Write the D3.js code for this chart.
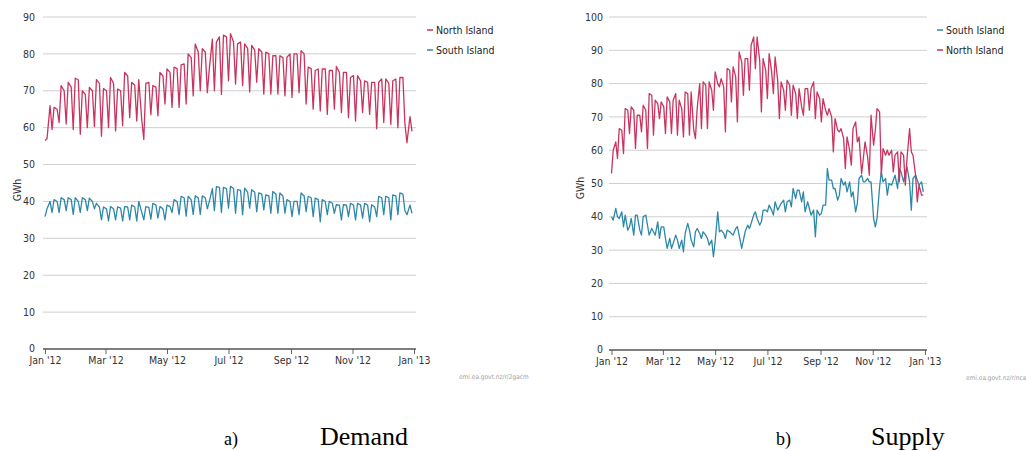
<!DOCTYPE html>
<html><head><meta charset="utf-8">
<script src="https://cdn.jsdelivr.net/npm/d3@7"></script>
<style>
html,body{margin:0;padding:0;background:#fff;}
svg{display:block;}
</style></head><body>
<svg id="c" width="1026" height="451"></svg>
<script>
// ---------- DATA ----------
// Values read at three points of each week of 2012: Sunday, Tuesday, Friday
const anchorWeekdays = [0, 2, 5];
const weeks = d3.range(53);
const xTickLabels = ["Jan '12", "Mar '12", "May '12", "Jul '12", "Sep '12", "Nov '12", "Jan '13"];
const demandYTicks = [0, 10, 20, 30, 40, 50, 60, 70, 80, 90];
const supplyYTicks = [0, 10, 20, 30, 40, 50, 60, 70, 80, 90, 100];

const demandNorth = [
56.5,57,66, 59.5,65.5,65, 61.4,71.4,70, 61,72.3,71, 59.5,73.4,73, 58.2,70,69, 60,70.9,70, 60.3,73,72, 57.7,70.6,70, 60,73.6,72,
59.1,70.5,70, 60.5,75,74, 62.7,72.3,71.5, 61.8,73,62, 56.8,72,72.3, 63.5,71.4,71, 63.2,75,74, 66.4,75.9,75, 65.5,76.4,76, 65.5,77,77.3,
66.4,80,79, 68.6,82.7,80.5, 70,81.4,80.5, 69.5,76,84, 70,83.2,84.6, 69,85.1,84.6, 72.7,85.5,83.2, 71.8,82.7,83.2, 71.4,82.7,81.5, 69.7,82.3,81,
72.3,81.4,80.5, 69.1,80.5,80, 69.1,79.5,79.5, 69.1,79.5,79, 68.6,79.1,80, 68.2,80,80, 69.5,80.9,80, 66.4,76.4,76, 65,75.5,75.9, 64.5,75.9,75.9,
63.6,75.5,75.5, 65,76.6,75, 64.1,75,75, 62.7,73.6,74.1, 61.8,74.1,72.7, 64.1,72.7,72.3, 63.6,72.3,72.3, 59.7,72.3,73.2, 61.4,73.2,72, 60.9,72.7,73.2,
60,73.6,73.6, 61,55.9,63, 59
];
const demandSouth = [
35.9,38,40, 37,40.5,40, 37,41,40.5, 37.5,41,40.5, 36.5,41,40, 37,41,40.5, 37.5,40.9,40, 38,39.5,38.5, 35,38.5,38, 34.7,38.6,38,
35,38.5,38.2, 34.7,38.6,38.5, 35,39,38.5, 34.7,40,37, 35,38.6,38.4, 35.2,39.5,39, 35.5,38.6,38, 35,39,38.6, 37,40.5,40, 36.4,41.4,41,
36,41.4,40.5, 36.5,41.5,41, 36.5,41.5,41, 38,40,43.5, 37.5,44,43.8, 37,43.8,43.5, 38.2,44.1,43.5, 36.8,43.2,43, 36.4,43.6,42.5, 38.2,43.2,42.5,
37.2,42.3,42, 37.7,41.8,41.5, 36.8,42.7,42, 36.8,42.3,41.5, 36.8,40.5,40, 35.9,40,40, 36.4,42.3,41.5, 37.2,41.4,41, 35.9,40.9,40.5, 34.5,40.5,40,
36.4,40,39.5, 36.8,39.1,39, 35,39.1,39, 35.9,39.5,39, 35,39.5,39, 35.5,39.5,39, 34.5,39.1,38.5, 35.9,41.4,41, 36.4,41.4,41, 35,41.8,41.5,
36.4,42.3,42, 37.5,36.4,39, 36.8
];
const supplyNorth = [
53,60,62.5, 57.5,66.5,66, 59,72.5,72, 65,73,72, 60.5,70.5,70.5, 65.5,73.5,72, 60.5,77,76.5, 64.5,75,74, 69.5,74.5,73, 65,76,74.5,
65,75,77, 64.5,75,72.5, 64,77.5,77, 64.5,77.5,66, 63.5,72.5,80, 66.5,80.5,79.5, 66.5,80.5,78, 72,83.5,80, 79,81.5,79, 65.5,84.5,84,
74.5,85,82, 68.5,89.5,86.5, 76.5,87.5,87.5, 78,91.5,94, 84.5,94,87, 71.5,87.5,84, 75.5,89,83.5, 77,88,81, 69.5,80.5,78, 72,81,79.5,
70.5,79.5,77, 69.5,78.5,73, 70.5,78.5,78.5, 72,78.5,80.5, 69.5,77.5,75.5, 68.5,75.5,72, 70.5,72.5,70, 59.5,69.5,66, 65.5,66.5,63.5, 54.5,64,60,
55.5,66.5,68.5, 62.5,64,53, 57.5,62.5,58, 52.5,70.5,61.5, 66,72.5,71.5, 52.5,60.5,58.5, 60,58.5,60, 53.5,58.5,59.5, 50.5,59.5,58.5, 49.5,57.5,66.5,
59.5,58.5,52.5, 44.5,49.5,46.5, 46.5
];
const supplySouth = [
40,39,42.5, 40,39.5,41.5, 37,40.5,36, 37,39.5,34.5, 40.5,40.5,36, 34.5,40,40.5, 37.5,34.5,36.5, 35.5,34.5,38.5, 33.5,37,37, 33.5,30.5,33.5,
30.5,32,34.5, 33,30.5,33, 29.5,35,38, 36,33,31, 35.5,36.5,35, 33.5,35.5,34.5, 33.5,31.5,33, 28,32.5,41.5, 35.5,36,35, 33.5,36,35.5,
35,34.5,36.5, 37,34.5,30.5, 33,35.5,37.5, 36.5,38,40.5, 41.5,39.5,37.5, 38.5,42,42, 41.5,43.5,42, 40.5,44.5,42, 43,44,45, 41.5,44.5,45,
43,48.5,45.5, 48,48,44.5, 47.5,41.5,44.5, 42.5,40.5,42, 34,42,40.5, 41,43.5,43.5, 54.5,51,51, 48.5,48.5,45, 46.5,51.5,49.5, 50.5,47.5,50.5,
46,47.5,41.5, 44,51.5,52.5, 50.5,50.5,51.5, 50.5,50.5,39.5, 37,39.5,49, 53.5,50.5,51.5, 46.5,50,49.5, 51,52.5,48.5, 54.5,53.5,50.5, 53,55,50.5,
42,51.5,52.5, 51,49.5,50.5, 47.5
];

// ---------- BUILD ----------
const start = new Date(2012, 0, 1), end = new Date(2013, 0, 1), lastDay = new Date(2012, 11, 31);
const anchorDates = [];
weeks.forEach(k => anchorWeekdays.forEach(o => {
  const d = d3.timeDay.offset(start, 7 * k + o);
  if (d <= lastDay) anchorDates.push(d);
}));
const toSeries = vals => vals.map((v, i) => ({date: anchorDates[i], v}));

const RED = "#c9345f", BLUE = "#2f87a8";
const FONT = "'Liberation Sans Narrow','DejaVu Sans Condensed',Roboto,sans-serif";
const svg = d3.select("#c");

function drawChart(o) {
  const g = svg.append("g");
  const x = d3.scaleTime().domain([start, end]).range(o.xr);
  const y = d3.scaleLinear().domain([0, o.yTicks[o.yTicks.length - 1]]).range(o.yr);

  g.selectAll("line.grid").data(o.yTicks.filter(t => t > 0)).join("line")
    .attr("x1", o.gx[0]).attr("x2", o.gx[1])
    .attr("y1", d => y(d)).attr("y2", d => y(d))
    .attr("stroke", "#cfcfcf").attr("stroke-width", 1);

  g.selectAll("text.yl").data(o.yTicks).join("text")
    .attr("x", o.ylx).attr("y", d => y(d) - (d === 0 ? 1 : 0)).attr("dy", "0.35em")
    .attr("text-anchor", "end").attr("font-family", FONT).attr("font-size", 10.5)
    .attr("fill", "#333").text(d => d);

  g.append("text")
    .attr("transform", `translate(${o.gwhX},${o.gwhY}) rotate(-90)`)
    .attr("text-anchor", "middle").attr("dy", "0.35em")
    .attr("font-family", FONT).attr("font-size", 10.5).attr("fill", "#333").text("GWh");

  const tickDates = d3.timeMonth.every(2).range(start, d3.timeDay.offset(end, 1));
  const ax = g.append("g").attr("transform", `translate(0,${y(0)})`)
    .call(d3.axisBottom(x).tickValues(tickDates).tickFormat((d, i) => xTickLabels[i])
      .tickSize(5).tickSizeOuter(0).tickPadding(2.5));
  ax.select(".domain").remove();
  ax.selectAll(".tick line").attr("stroke", "#666");
  ax.selectAll(".tick text").attr("font-family", FONT).attr("font-size", 10.5).attr("fill", "#333");
  g.append("line").attr("x1", o.gx[0]).attr("x2", o.gx[1]).attr("y1", y(0)).attr("y2", y(0))
    .attr("stroke", "#555").attr("stroke-width", 1.5);

  const line = d3.line().x(d => x(d.date)).y(d => y(d.v));
  o.series.forEach(s => {
    g.append("path").datum(toSeries(s.values)).attr("d", line)
      .attr("fill", "none").attr("stroke", s.color).attr("stroke-width", 1.3)
      .attr("stroke-linejoin", "round");
  });

  o.legend.forEach((s, i) => {
    const ly = o.legY + i * 20;
    g.append("line").attr("x1", o.legX).attr("x2", o.legX + 6).attr("y1", ly).attr("y2", ly)
      .attr("stroke", s.color).attr("stroke-width", 1.5);
    g.append("text").attr("x", o.legX + 9).attr("y", ly).attr("dy", "0.35em")
      .attr("font-family", FONT).attr("font-size", 10.5).attr("fill", "#222").text(s.name);
  });

  g.append("text").attr("x", o.srcX).attr("y", o.srcY).attr("dy", "0.35em")
    .attr("font-family", FONT).attr("font-size", 6.5).attr("fill", "#a0a0a0").text(o.source);
}

const dN = {name: "North Island", color: RED, values: demandNorth};
const dS = {name: "South Island", color: BLUE, values: demandSouth};
drawChart({
  xr: [45, 414], yr: [349, 17], gx: [43, 416], yTicks: demandYTicks, ylx: 35,
  gwhX: 17, gwhY: 190, series: [dN, dS], legend: [dN, dS], legX: 427, legY: 30,
  srcX: 459, srcY: 377, source: "emi.ea.govt.nz/r/2gacm"
});
const sS = {name: "South Island", color: BLUE, values: supplySouth};
const sN = {name: "North Island", color: RED, values: supplyNorth};
drawChart({
  xr: [611.5, 925], yr: [350, 17], gx: [609, 927], yTicks: supplyYTicks, ylx: 603,
  gwhX: 580, gwhY: 188, series: [sS, sN], legend: [sS, sN], legX: 937, legY: 30,
  srcX: 966, srcY: 378, source: "emi.ea.govt.nz/r/ncaw"
});

// captions
const SERIF = "'Liberation Serif','Times New Roman',serif";
[["a)", 224, 18], ["Demand", 320, 26], ["b)", 776, 18], ["Supply", 871, 26]].forEach(([t, xx, fs]) => {
  svg.append("text").attr("x", xx).attr("y", 445).attr("font-family", SERIF)
    .attr("font-size", fs).attr("fill", "#000").text(t);
});
</script>
</body></html>
